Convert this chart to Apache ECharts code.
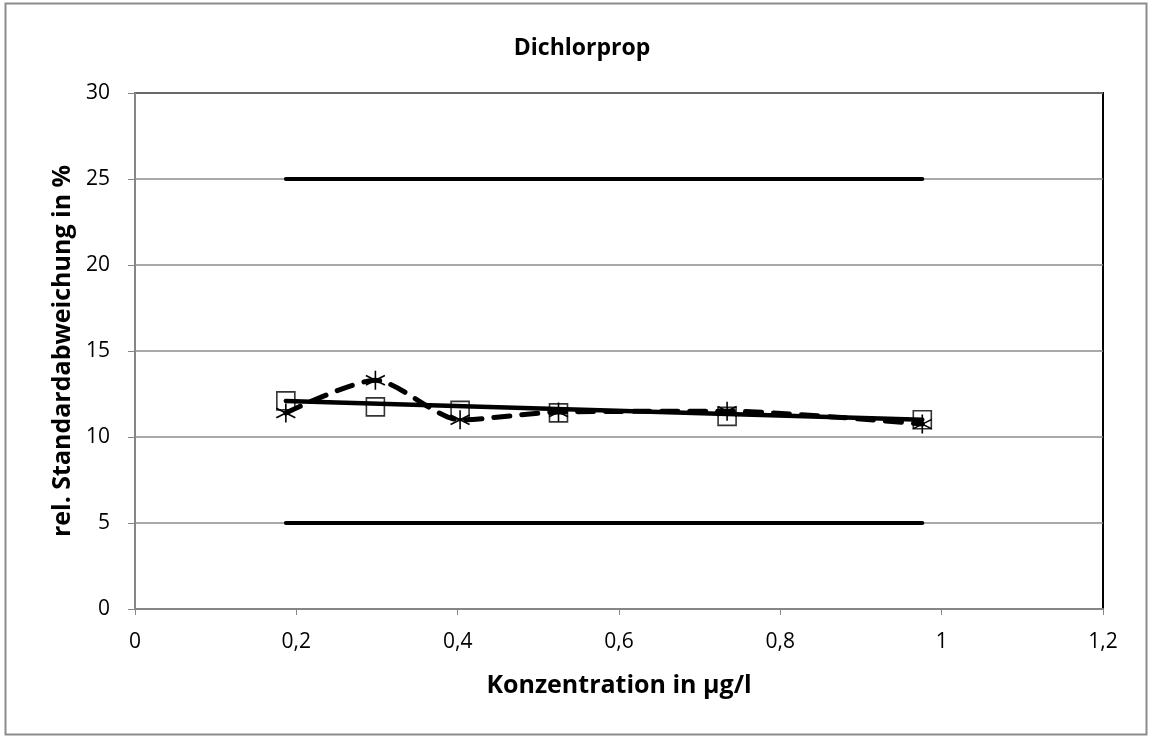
<!DOCTYPE html>
<html>
<head>
<meta charset="utf-8">
<script src="https://cdn.jsdelivr.net/npm/echarts@6/dist/echarts.min.js"></script>
<style>
  html, body { margin: 0; padding: 0; background: #fff; }
  #chart { width: 1149px; height: 737px; }
</style>
</head>
<body>
<div id="chart"></div>
<script>
var konzX     = [0.187, 0.298, 0.403, 0.525, 0.734, 0.976];
var squareY   = [12.1, 11.75, 11.55, 11.4, 11.2, 11.0];
var starY     = [11.4, 13.3, 11.0, 11.45, 11.5, 10.75];
// lineare Trendlinie der Quadrate
var trendX    = [0.187, 0.976];
var trendY    = [12.1, 11.0];
// Grenzen
var limitX    = [0.187, 0.976];
var upperY    = [25, 25];
var lowerY    = [5, 5];

function pairs(xs, ys) {
  var out = [];
  for (var i = 0; i < xs.length; i++) out.push([xs[i], ys[i]]);
  return out;
}

var font = '"Open Sans", Lato, sans-serif';
var starPath = 'path://M0,-10L0,10M-8.7,-5L8.7,5M-8.7,5L8.7,-5';

var myChart = echarts.init(document.getElementById('chart'));
var option = {
  backgroundColor: '#fff',
  animation: false,
  title: {
    text: 'Dichlorprop',
    left: 577,
    top: 32,
    textAlign: 'center',
    textStyle: { fontFamily: font, fontSize: 23, fontWeight: 'bold', color: '#000' }
  },
  graphic: [{
    type: 'rect',
    shape: { x: 5.5, y: 3.5, width: 1141, height: 731 },
    style: { fill: 'none', stroke: '#8c8c8c', lineWidth: 2 },
    silent: true
  }],
  grid: {
    left: 135, right: 46, top: 93, bottom: 128,
    show: true, borderColor: '#000', borderWidth: 2, backgroundColor: 'transparent'
  },
  xAxis: {
    type: 'value', min: 0, max: 1.2, interval: 0.2,
    name: 'Konzentration in µg/l', nameLocation: 'middle', nameGap: 64,
    nameTextStyle: { fontFamily: font, fontSize: 25, fontWeight: 'bold', color: '#000' },
    axisLine: { lineStyle: { color: '#868686', width: 2 } },
    axisTick: { show: true, length: 6, lineStyle: { color: '#868686', width: 1 } },
    axisLabel: {
      fontFamily: font, fontSize: 21, color: '#000', margin: 23,
      formatter: function (v) { return String(Math.round(v * 10) / 10).replace('.', ','); }
    },
    splitLine: { show: false }
  },
  yAxis: {
    type: 'value', min: 0, max: 30, interval: 5,
    name: 'rel. Standardabweichung in %', nameLocation: 'middle', nameGap: 57,
    nameTextStyle: { fontFamily: font, fontSize: 25, fontWeight: 'bold', color: '#000' },
    axisLine: { show: true, lineStyle: { color: '#868686', width: 2 } },
    axisTick: { show: true, length: 7, lineStyle: { color: '#868686', width: 1 } },
    axisLabel: { fontFamily: font, fontSize: 21, color: '#000', margin: 25 },
    splitLine: { show: true, lineStyle: { color: '#8c8c8c', width: 1.5 } }
  },
  series: [
    {
      type: 'line', data: pairs(limitX, upperY), showSymbol: false, silent: true,
      lineStyle: { color: '#000', width: 4, cap: 'round' }
    },
    {
      type: 'line', data: pairs(limitX, lowerY), showSymbol: false, silent: true,
      lineStyle: { color: '#000', width: 4, cap: 'round' }
    },
    {
      type: 'line', data: pairs(konzX, starY), smooth: 0.25,
      symbol: starPath, symbolSize: [19, 19],
      itemStyle: { color: 'none', borderColor: '#000', borderWidth: 1.6 },
      lineStyle: { color: '#000', width: 5, type: [16, 12], cap: 'round' }
    },
    {
      type: 'line', data: pairs(trendX, trendY), showSymbol: false, silent: true,
      lineStyle: { color: '#000', width: 4.5, cap: 'round' }
    },
    {
      type: 'scatter', data: pairs(konzX, squareY),
      symbol: 'rect', symbolSize: 18,
      itemStyle: { color: 'none', borderColor: '#000', borderWidth: 1.6 }
    }
  ]
};
myChart.setOption(option);
</script>
</body>
</html>
